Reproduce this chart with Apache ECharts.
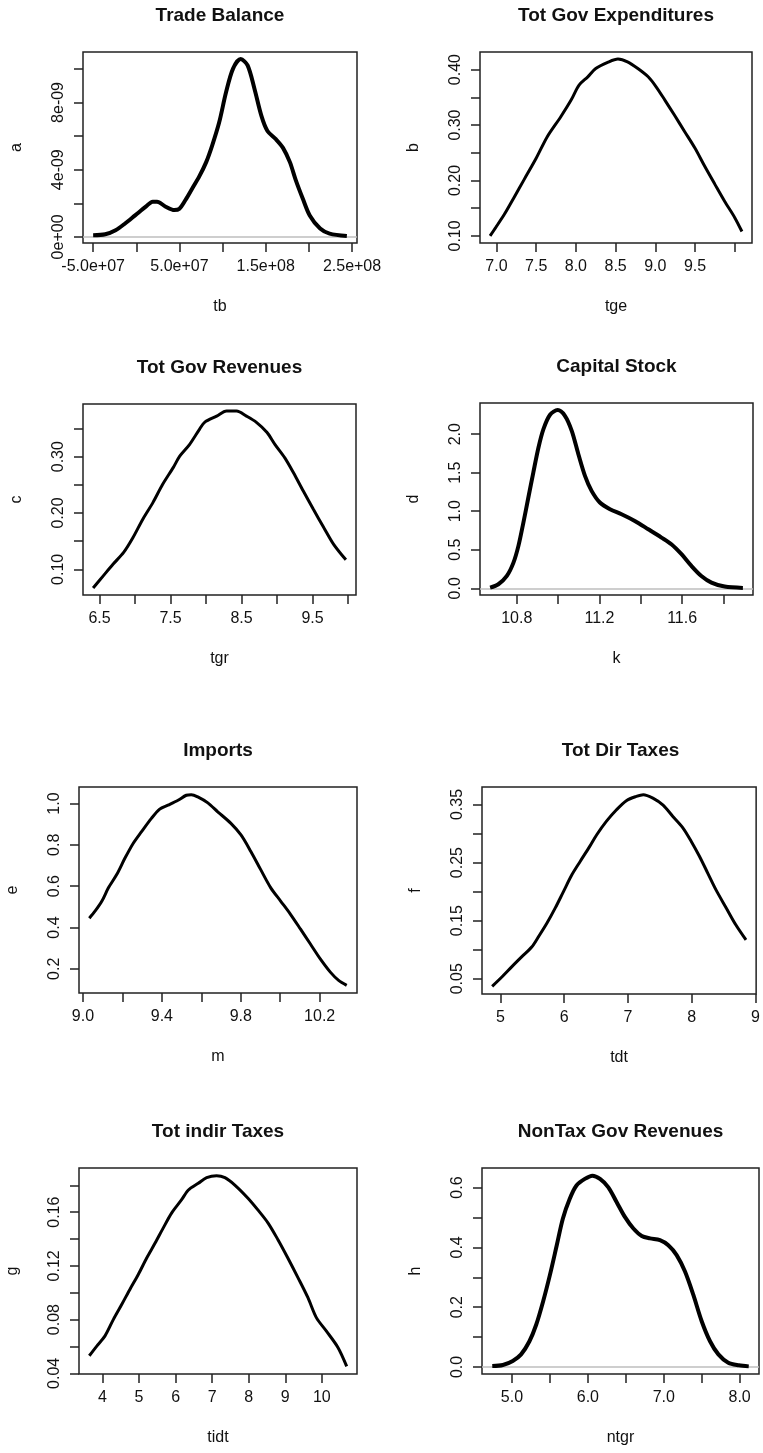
<!DOCTYPE html>
<html>
<head>
<meta charset="utf-8">
<script src="https://cdn.jsdelivr.net/npm/echarts@6/dist/echarts.min.js"></script>
<style>
html,body{margin:0;padding:0;background:#fff;}
#chart{width:763px;height:1453px;}
</style>
</head>
<body>
<div id="chart"></div>
<script>
// ---------- titles & axis names ----------
const titles = ['Trade Balance','Tot Gov Expenditures','Tot Gov Revenues','Capital Stock','Imports','Tot Dir Taxes','Tot indir Taxes','NonTax Gov Revenues'];
const xNames = ['tb','tge','tgr','k','m','tdt','tidt','ntgr'];
const yNames = ['a','b','c','d','e','f','g','h'];

// ---------- Trade Balance ----------
const tbX = [-5.0e7,-3.6e7,-2.4e7,-1.3e7,-0.1e7,1.1e7,1.9e7,2.4e7,3.4e7,4.4e7,5.0e7,5.7e7,6.5e7,7.3e7,8.1e7,8.8e7,9.6e7,1.04e8,1.12e8,1.21e8,1.29e8,1.37e8,1.45e8,1.52e8,1.62e8,1.70e8,1.78e8,1.85e8,1.93e8,2.01e8,2.13e8,2.24e8,2.44e8];
const tbY = [0.1e-9,0.16e-9,0.4e-9,0.8e-9,1.3e-9,1.8e-9,2.1e-9,2.1e-9,1.8e-9,1.6e-9,1.68e-9,2.2e-9,2.9e-9,3.6e-9,4.45e-9,5.45e-9,6.8e-9,8.6e-9,10.0e-9,10.58e-9,10.2e-9,8.8e-9,7.2e-9,6.3e-9,5.8e-9,5.3e-9,4.45e-9,3.35e-9,2.27e-9,1.28e-9,0.5e-9,0.2e-9,0.06e-9];
const tbXTicks = [-5e7,0,5e7,1e8,1.5e8,2e8,2.5e8];
const tbXLabels = ['-5.0e+07','','5.0e+07','','1.5e+08','','2.5e+08'];
const tbYTicks = [0,2e-9,4e-9,6e-9,8e-9,1e-8];
const tbYLabels = ['0e+00','','4e-09','','8e-09',''];

// ---------- Tot Gov Expenditures ----------
const tgeX = [6.92,6.99,7.10,7.22,7.35,7.50,7.64,7.81,7.94,8.04,8.15,8.25,8.40,8.53,8.65,8.78,8.91,9.01,9.12,9.24,9.37,9.50,9.62,9.75,9.87,10.0,10.09];
const tgeY = [0.100,0.115,0.139,0.169,0.202,0.240,0.279,0.315,0.345,0.372,0.387,0.402,0.413,0.419,0.414,0.402,0.387,0.369,0.345,0.318,0.288,0.258,0.226,0.193,0.163,0.133,0.108];
const tgeXTicks = [7.0,7.5,8.0,8.5,9.0,9.5,10.0];
const tgeXLabels = ['7.0','7.5','8.0','8.5','9.0','9.5',''];
const tgeYTicks = [0.10,0.15,0.20,0.25,0.30,0.35,0.40];
const tgeYLabels = ['0.10','','0.20','','0.30','','0.40'];

// ---------- Tot Gov Revenues ----------
const tgrX = [6.41,6.55,6.69,6.84,6.97,7.11,7.25,7.39,7.54,7.63,7.77,7.91,7.98,8.15,8.29,8.43,8.57,8.71,8.86,8.97,9.11,9.23,9.37,9.51,9.66,9.80,9.97];
const tgrY = [0.067,0.088,0.109,0.130,0.156,0.189,0.218,0.251,0.281,0.301,0.322,0.349,0.361,0.372,0.381,0.381,0.372,0.361,0.343,0.322,0.298,0.272,0.239,0.207,0.174,0.144,0.117];
const tgrXTicks = [6.5,7.0,7.5,8.0,8.5,9.0,9.5,10.0];
const tgrXLabels = ['6.5','','7.5','','8.5','','9.5',''];
const tgrYTicks = [0.10,0.15,0.20,0.25,0.30,0.35];
const tgrYLabels = ['0.10','','0.20','','0.30',''];

// ---------- Capital Stock ----------
const kX = [10.671,10.711,10.752,10.784,10.808,10.832,10.856,10.880,10.905,10.929,10.961,10.998,11.033,11.066,11.098,11.130,11.162,11.202,11.251,11.307,11.371,11.436,11.500,11.548,11.597,11.645,11.693,11.742,11.806,11.894];
const kY = [0.009,0.052,0.16,0.333,0.55,0.853,1.178,1.502,1.827,2.065,2.251,2.312,2.238,2.043,1.740,1.459,1.264,1.113,1.026,0.961,0.874,0.766,0.658,0.571,0.442,0.290,0.160,0.074,0.022,0.005];
const kXTicks = [10.8,11.0,11.2,11.4,11.6,11.8];
const kXLabels = ['10.8','','11.2','','11.6',''];
const kYTicks = [0,0.5,1.0,1.5,2.0];
const kYLabels = ['0.0','0.5','1.0','1.5','2.0'];

// ---------- Imports ----------
const mX = [9.032,9.062,9.096,9.129,9.171,9.213,9.255,9.297,9.347,9.389,9.431,9.482,9.524,9.549,9.582,9.633,9.683,9.750,9.801,9.851,9.901,9.952,10.002,10.052,10.103,10.153,10.203,10.254,10.296,10.337];
const mY = [0.445,0.48,0.528,0.592,0.656,0.736,0.808,0.864,0.928,0.973,0.992,1.016,1.040,1.043,1.032,1.003,0.96,0.904,0.848,0.768,0.68,0.592,0.528,0.464,0.392,0.32,0.248,0.184,0.144,0.12];
const mXTicks = [9.0,9.2,9.4,9.6,9.8,10.0,10.2];
const mXLabels = ['9.0','','9.4','','9.8','','10.2'];
const mYTicks = [0.2,0.4,0.6,0.8,1.0];
const mYLabels = ['0.2','0.4','0.6','0.8','1.0'];

// ---------- Tot Dir Taxes ----------
const tdtX = [4.87,5.03,5.18,5.34,5.49,5.60,5.73,5.86,5.99,6.12,6.25,6.40,6.51,6.66,6.82,6.98,7.13,7.24,7.39,7.55,7.70,7.86,7.99,8.12,8.25,8.38,8.54,8.69,8.85];
const tdtY = [0.037,0.054,0.071,0.0885,0.1046,0.123,0.146,0.172,0.2006,0.229,0.252,0.278,0.298,0.321,0.341,0.357,0.364,0.367,0.361,0.349,0.330,0.310,0.287,0.261,0.232,0.203,0.172,0.143,0.117];
const tdtXTicks = [5,6,7,8,9];
const tdtXLabels = ['5','6','7','8','9'];
const tdtYTicks = [0.05,0.10,0.15,0.20,0.25,0.30,0.35];
const tdtYLabels = ['0.05','','0.15','','0.25','','0.35'];

// ---------- Tot indir Taxes ----------
const tidtX = [3.64,3.85,4.07,4.30,4.53,4.75,4.98,5.21,5.44,5.66,5.89,6.16,6.35,6.62,6.85,7.12,7.35,7.62,7.98,8.25,8.53,8.80,9.07,9.35,9.62,9.85,10.12,10.44,10.68];
const tidtY = [0.0531,0.0605,0.0679,0.0802,0.0914,0.1025,0.1136,0.1259,0.137,0.1481,0.1593,0.1691,0.1765,0.1815,0.1857,0.1872,0.1857,0.1802,0.1704,0.1617,0.1519,0.1395,0.1259,0.1111,0.0963,0.0815,0.0716,0.0593,0.0452];
const tidtXTicks = [4,5,6,7,8,9,10];
const tidtXLabels = ['4','5','6','7','8','9','10'];
const tidtYTicks = [0.04,0.06,0.08,0.10,0.12,0.14,0.16,0.18];
const tidtYLabels = ['0.04','','0.08','','0.12','','0.16',''];

// ---------- NonTax Gov Revenues ----------
const ntgrX = [4.74,4.88,5.01,5.12,5.23,5.32,5.41,5.50,5.59,5.67,5.76,5.85,5.96,6.06,6.16,6.27,6.38,6.49,6.60,6.71,6.82,6.95,7.06,7.17,7.28,7.39,7.50,7.61,7.72,7.85,7.99,8.12];
const ntgrY = [0.003,0.0066,0.02,0.042,0.086,0.142,0.219,0.308,0.407,0.496,0.562,0.607,0.629,0.640,0.629,0.601,0.551,0.501,0.463,0.438,0.430,0.424,0.407,0.374,0.319,0.241,0.153,0.086,0.042,0.014,0.0055,0.002];
const ntgrXTicks = [5.0,5.5,6.0,6.5,7.0,7.5,8.0];
const ntgrXLabels = ['5.0','','6.0','','7.0','','8.0'];
const ntgrYTicks = [0,0.1,0.2,0.3,0.4,0.5,0.6];
const ntgrYLabels = ['0.0','','0.2','','0.4','','0.6'];

// ---------- assemble ----------
const panels = [
  {x:tbX,y:tbY,xt:tbXTicks,xl:tbXLabels,yt:tbYTicks,yl:tbYLabels,zero:true},
  {x:tgeX,y:tgeY,xt:tgeXTicks,xl:tgeXLabels,yt:tgeYTicks,yl:tgeYLabels,zero:false},
  {x:tgrX,y:tgrY,xt:tgrXTicks,xl:tgrXLabels,yt:tgrYTicks,yl:tgrYLabels,zero:false},
  {x:kX,y:kY,xt:kXTicks,xl:kXLabels,yt:kYTicks,yl:kYLabels,zero:true},
  {x:mX,y:mY,xt:mXTicks,xl:mXLabels,yt:mYTicks,yl:mYLabels,zero:false},
  {x:tdtX,y:tdtY,xt:tdtXTicks,xl:tdtXLabels,yt:tdtYTicks,yl:tdtYLabels,zero:false},
  {x:tidtX,y:tidtY,xt:tidtXTicks,xl:tidtXLabels,yt:tidtYTicks,yl:tidtYLabels,zero:false},
  {x:ntgrX,y:ntgrY,xt:ntgrXTicks,xl:ntgrXLabels,yt:ntgrYTicks,yl:ntgrYLabels,zero:true}
];

// plot boxes [left, top, width, height]
const boxes = [
  [83,52,274,191],[480,52,272,191],
  [83,404,273,191],[480,403,273,192],
  [79,787,278,206],[482,787,277,207],
  [79,1168,278,206],[482,1168,277,206]
];

const FONT = 'Liberation Sans, Arial, sans-serif';
const TXT = '#111';

function padRange(arr){
  const mn = Math.min(...arr), mx = Math.max(...arr);
  const p = (mx - mn) * 0.04;
  return [mn - p, mx + p];
}
function labelFor(ticks, labels){
  return function(v){
    for (let i = 0; i < ticks.length; i++){
      if (Math.abs(ticks[i] - v) <= Math.abs(ticks[1]-ticks[0]) * 1e-6) return labels[i];
    }
    return '';
  };
}

const grid = [], xAxis = [], yAxis = [], series = [], title = [];
panels.forEach((p, i) => {
  const b = boxes[i];
  grid.push({left:b[0], top:b[1], width:b[2], height:b[3], show:true, borderColor:'#222', borderWidth:1.5, backgroundColor:'transparent', containLabel:false});
  const xr = padRange(p.x), yr = padRange(p.y);
  xAxis.push({
    type:'value', gridIndex:i, min:xr[0], max:xr[1],
    name:xNames[i], nameLocation:'middle', nameGap:56,
    nameTextStyle:{fontFamily:FONT, fontSize:16, color:TXT},
    axisLine:{show:false, onZero:false},
    axisTick:{show:true, length:9, inside:false, customValues:p.xt, lineStyle:{color:'#222', width:1.5}},
    axisLabel:{show:true, margin:16, fontFamily:FONT, fontSize:16, color:TXT,
      customValues:p.xt.filter((v,j)=>p.xl[j] !== ''), formatter:labelFor(p.xt,p.xl)},
    splitLine:{show:false}
  });
  yAxis.push({
    type:'value', gridIndex:i, min:yr[0], max:yr[1],
    name:yNames[i], nameLocation:'middle', nameGap:58,
    nameTextStyle:{fontFamily:FONT, fontSize:16, color:TXT},
    axisLine:{show:false, onZero:false},
    axisTick:{show:true, length:9, inside:false, customValues:p.yt, lineStyle:{color:'#222', width:1.5}},
    axisLabel:{show:true, rotate:90, margin:16, fontFamily:FONT, fontSize:16, color:TXT,
      customValues:p.yt.filter((v,j)=>p.yl[j] !== ''), formatter:labelFor(p.yt,p.yl)},
    splitLine:{show:false}
  });
  const s = {
    type:'line', xAxisIndex:i, yAxisIndex:i, showSymbol:false, smooth:0.3,
    data:p.x.map((v,j)=>[v,p.y[j]]),
    lineStyle:{color:'#000', width:p.zero ? 4 : 3},
    animation:false, z:3
  };
  if (p.zero){
    s.markLine = {silent:true, symbol:['none','none'], label:{show:false},
      lineStyle:{color:'#bebebe', type:'solid', width:1.5}, data:[{yAxis:0}], z:1, animation:false};
  }
  series.push(s);
  title.push({text:titles[i], left:b[0]+b[2]/2, top:b[1]-46, textAlign:'center', padding:0,
    textStyle:{fontFamily:FONT, fontSize:19, fontWeight:'bold', color:TXT}});
});

const chart = echarts.init(document.getElementById('chart'), null, {renderer:'canvas'});
chart.setOption({animation:false, backgroundColor:'#fff', title, grid, xAxis, yAxis, series});
</script>
</body>
</html>
